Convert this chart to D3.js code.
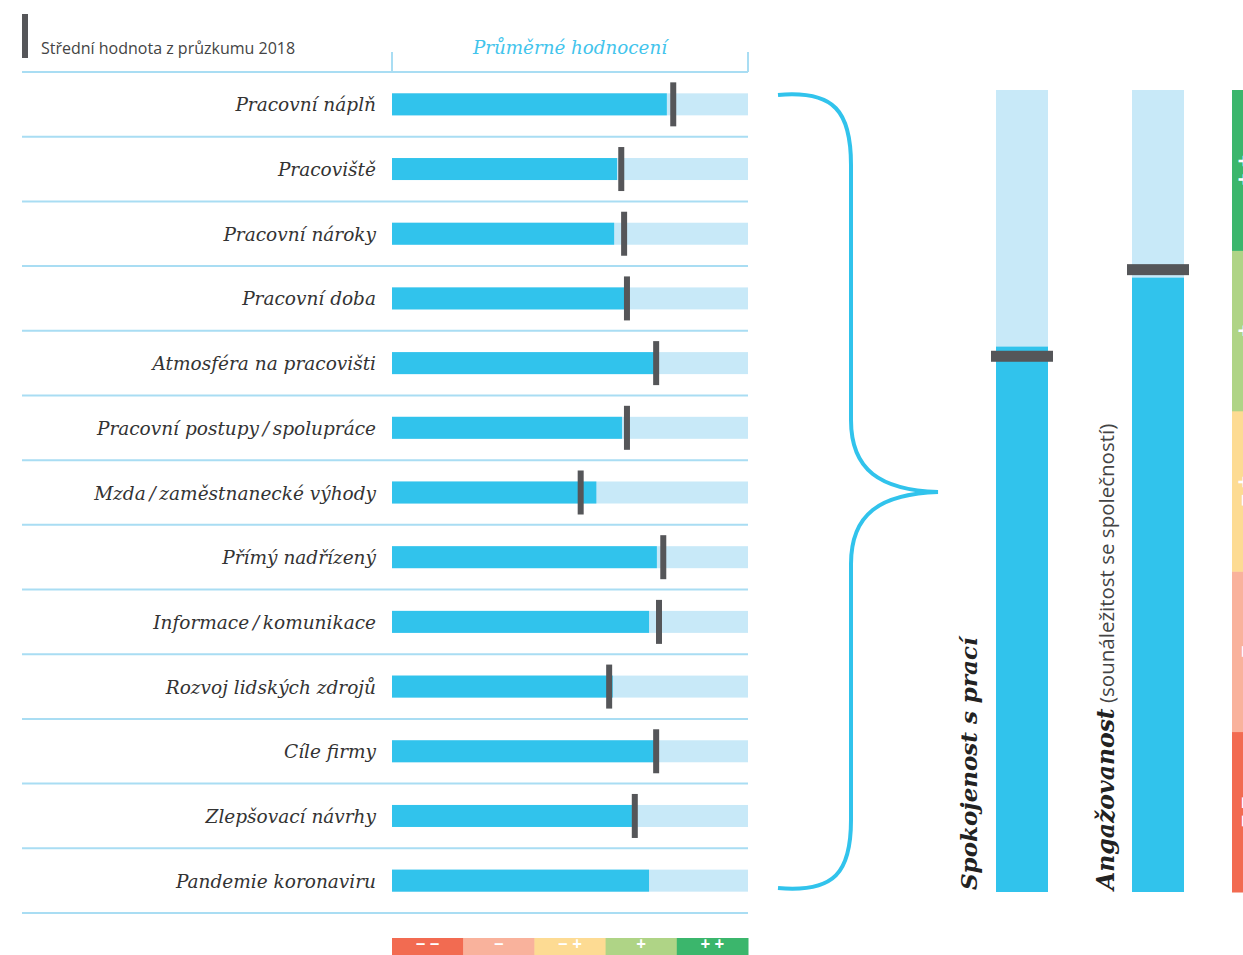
<!DOCTYPE html>
<html>
<head>
<meta charset="utf-8">
<script src="https://cdn.jsdelivr.net/npm/d3@7"></script>
<style>
  body { margin: 0; background: #fff; overflow: hidden; }
  svg { display: block; }
</style>
</head>
<body>
<svg id="chart" width="1243" height="955"></svg>
<script>
// hodnoty (škála 0–5)
const categories = ['Pracovní náplň', 'Pracoviště', 'Pracovní nároky', 'Pracovní doba',
  'Atmosféra na pracovišti', 'Pracovní postupy\u2009/\u2009spolupráce', 'Mzda\u2009/\u2009zaměstnanecké výhody',
  'Přímý nadřízený', 'Informace\u2009/\u2009komunikace', 'Rozvoj lidských zdrojů', 'Cíle firmy',
  'Zlepšovací návrhy', 'Pandemie koronaviru'];
const scores = [3.86, 3.16, 3.12, 3.27, 3.74, 3.23, 2.87, 3.72, 3.61, 3.10, 3.68, 3.37, 3.61];
const scores2018 = [3.95, 3.22, 3.26, 3.30, 3.71, 3.30, 2.65, 3.81, 3.75, 3.05, 3.71, 3.41, null];

const summaryNames = ['Spokojenost', 'Angažovanost'];
const summaryScores = [3.40, 3.83];
const summary2018 = [3.34, 3.88];

const legendLabels = ['− −', '−', '− +', '+', '+ +'];
const legendColors = ['#f26b51', '#f9b29c', '#fddb93', '#afd486', '#3bb66c'];

const blue = '#31c3ec', paleBlue = '#c8e9f8', lineBlue = '#a9ddf3', marker = '#555659';
const serif = '"DejaVu Serif", serif';
const sans = '"Open Sans", "Noto Sans", sans-serif';

const svg = d3.select('#chart');

const x = d3.scaleLinear().domain([0, 5]).range([392, 748]);
const y = d3.scaleBand().domain(categories).range([72, 913]);
const barH = 22, markH = 44, markW = 6;

// hlavička
svg.append('rect').attr('x', 22).attr('y', 14).attr('width', 6).attr('height', 44).attr('fill', marker);
svg.append('text').attr('x', 41).attr('y', 54)
   .attr('font-family', sans).attr('font-size', 16).attr('fill', '#444')
   .text('Střední hodnota z průzkumu 2018');
svg.append('text').attr('x', (x(0) + x(5)) / 2).attr('y', 54)
   .attr('text-anchor', 'middle').attr('font-family', serif).attr('font-style', 'italic')
   .attr('font-size', 18.3).attr('fill', '#42c4ec')
   .text('Průměrné hodnocení');
svg.append('path')
   .attr('d', `M${x(0)},52V72M${x(5)},52V72`)
   .attr('stroke', lineBlue).attr('stroke-width', 2).attr('fill', 'none');

// oddělovací čáry
const seps = categories.map(c => y(c)).concat([y.range()[1]]);
svg.append('g').selectAll('line').data(seps).join('line')
   .attr('x1', 22).attr('x2', 748)
   .attr('y1', d => d).attr('y2', d => d)
   .attr('stroke', lineBlue).attr('stroke-width', 2);

const rows = svg.append('g').selectAll('g').data(categories).join('g')
   .attr('transform', d => `translate(0,${y(d) + y.bandwidth() / 2})`);

rows.append('text')
   .attr('x', 376).attr('y', 7).attr('text-anchor', 'end')
   .attr('font-family', serif).attr('font-style', 'italic').attr('font-size', 18.5)
   .attr('fill', '#333')
   .text(d => d);

rows.append('rect')
   .attr('x', x(0)).attr('y', -barH / 2).attr('width', x(5) - x(0)).attr('height', barH)
   .attr('fill', paleBlue);
rows.append('rect')
   .attr('x', x(0)).attr('y', -barH / 2)
   .attr('width', (d, i) => x(scores[i]) - x(0)).attr('height', barH)
   .attr('fill', blue);
rows.filter((d, i) => scores2018[i] != null).append('rect')
   .attr('x', d => x(scores2018[categories.indexOf(d)]) - markW / 2)
   .attr('y', -markH / 2).attr('width', markW).attr('height', markH)
   .attr('fill', marker);

// spodní legenda
const seg = (x(5) - x(0)) / legendLabels.length;
const bottomLeg = svg.append('g').selectAll('g').data(legendLabels).join('g')
   .attr('transform', (d, i) => `translate(${x(0) + i * seg},938)`);
bottomLeg.append('rect').attr('width', seg + 0.5).attr('height', 20)
   .attr('fill', (d, i) => legendColors[i]);
bottomLeg.append('text').attr('x', seg / 2).attr('y', 11.5).attr('text-anchor', 'middle')
   .attr('font-family', sans).attr('font-size', 17).attr('font-weight', 'bold')
   .attr('fill', '#fff').text(d => d);

// složená závorka
const brace = d3.path();
brace.moveTo(778, 95);
brace.bezierCurveTo(835, 90, 851, 112, 851, 165);
brace.lineTo(851, 420);
brace.bezierCurveTo(851, 470, 880, 490, 938, 492);
brace.bezierCurveTo(880, 494, 851, 514, 851, 564);
brace.lineTo(851, 820);
brace.bezierCurveTo(851, 872, 835, 893, 778, 888);
svg.append('path').attr('d', brace.toString())
   .attr('fill', 'none').attr('stroke', blue).attr('stroke-width', 4);

// souhrnné sloupce
const yv = d3.scaleLinear().domain([0, 5]).range([892, 90]);
const colX = d3.scaleOrdinal().domain(summaryNames).range([996, 1132]);
const colW = 52;
const cols = svg.append('g').selectAll('g').data(summaryNames).join('g')
   .attr('transform', d => `translate(${colX(d)},0)`);
cols.append('rect').attr('y', yv(5)).attr('width', colW).attr('height', yv(0) - yv(5))
   .attr('fill', paleBlue);
cols.append('rect').attr('y', (d, i) => yv(summaryScores[i]))
   .attr('width', colW).attr('height', (d, i) => yv(0) - yv(summaryScores[i]))
   .attr('fill', blue);
cols.append('rect').attr('x', -5).attr('y', (d, i) => yv(summary2018[i]) - 5.5)
   .attr('width', colW + 10).attr('height', 11).attr('fill', marker);

// popisky sloupců
svg.append('text').attr('transform', 'translate(977,890) rotate(-90)')
   .attr('font-family', serif).attr('font-style', 'italic').attr('font-weight', 'bold')
   .attr('font-size', 23).attr('fill', '#222')
   .text('Spokojenost s prací');
const ang = svg.append('text').attr('transform', 'translate(1114,890) rotate(-90)')
   .attr('fill', '#222');
ang.append('tspan').attr('font-family', serif).attr('font-style', 'italic')
   .attr('font-weight', 'bold').attr('font-size', 23.5).text('Angažovanost');
ang.append('tspan').attr('font-family', sans).attr('font-size', 20.5).attr('fill', '#444')
   .text(' (sounáležitost se společností)');

// pravá legenda
const yseg = (yv(0) - yv(5)) / legendLabels.length;
const sideLeg = svg.append('g').selectAll('g').data(legendLabels).join('g')
   .attr('transform', (d, i) => `translate(1232,${yv(0) - (i + 1) * yseg})`);
sideLeg.append('rect').attr('width', 22).attr('height', yseg + 0.5)
   .attr('fill', (d, i) => legendColors[i]);
sideLeg.append('text')
   .attr('transform', `translate(19,${yseg / 2}) rotate(-90)`)
   .attr('text-anchor', 'middle')
   .attr('font-family', sans).attr('font-size', 22).attr('font-weight', 'bold')
   .attr('fill', '#fff').text(d => d);
</script>
</body>
</html>
